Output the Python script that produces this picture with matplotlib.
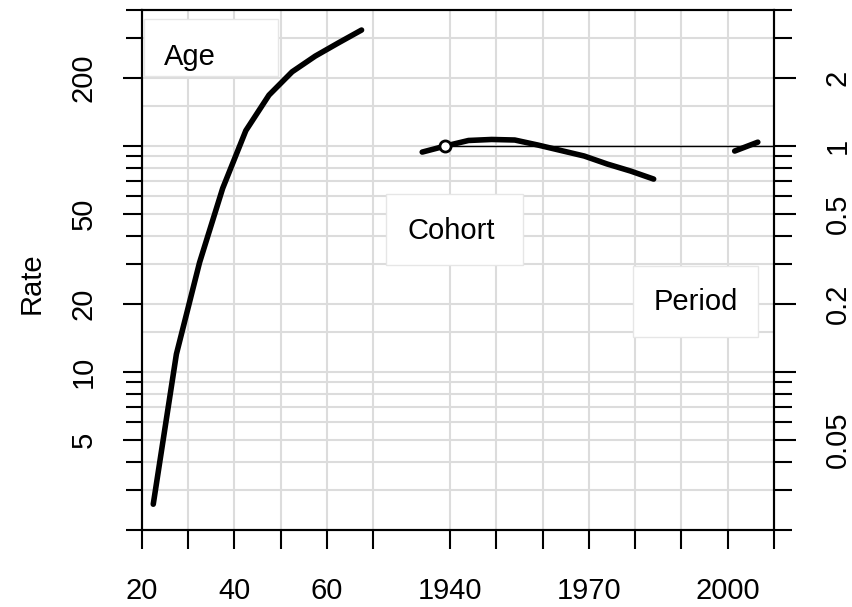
import numpy as np
import matplotlib.pyplot as plt
from matplotlib.patches import Rectangle

plt.rcParams['font.family'] = ['Liberation Sans', 'DejaVu Sans']

# Age effect: rates per 100,000 (left axis)
age = [22.5, 27.5, 32.5, 37.5, 42.5, 47.5, 52.5, 57.5, 62.5, 67.5]
age_rate = [2.6, 12.0, 30.5, 65.0, 117.0, 168.0, 213.0, 250.0, 286.0, 326.0]

# Cohort effect: rate ratios (right axis), reference cohort 1939
cohort = [1934, 1939, 1944, 1949, 1954, 1959, 1964, 1969, 1974, 1979, 1984]
cohort_rr = [0.94, 1.0, 1.058, 1.069, 1.063, 1.01, 0.955, 0.903, 0.832, 0.775, 0.714]
cohort_ref = 1939

# Period effect: rate ratios (right axis)
period = [2001.5, 2006.5]
period_rr = [0.95, 1.04]

# Axis ticks and labels
age_ticks = [20, 30, 40, 50, 60, 70]
age_labels = ['20', '', '40', '', '60', '']
cal_ticks = [1940, 1950, 1960, 1970, 1980, 1990, 2000, 2010]
cal_labels = ['1940', '', '', '1970', '', '', '2000', '']
rate_major = [5, 10, 20, 50, 100, 200]
rate_labels = ['5', '10', '20', '50', '', '200']
rate_minor = [2, 3, 4, 6, 7, 8, 9, 30, 40, 60, 70, 80, 90, 300, 400]
rate_grid = [3, 4, 5, 6, 7, 8, 9, 10, 15, 20, 30, 40, 50, 60, 70, 80, 90,
             100, 150, 200, 300]
rr_major = [0.05, 0.1, 0.2, 0.5, 1, 2]
rr_labels = ['0.05', '', '0.2', '0.5', '1', '2']
rr_minor = [0.02, 0.03, 0.04, 0.06, 0.07, 0.08, 0.09, 0.3, 0.4, 0.6, 0.7,
            0.8, 0.9, 3, 4]

# Calendar time sits to the right of age on the same x axis
cal_offset = 1853.4
x_range = (20, 2010 - cal_offset)
rate_range = (2, 400)
rr_range = (0.02, 4)

grid_col = '#dcdcdc'
fs = 21

fig = plt.figure(figsize=(8.53, 6.07), dpi=100)
ax = fig.add_axes([0.1661, 0.1269, 0.7413, 0.8567])
ax.set_xlim(*x_range)
ax.set_yscale('log')
ax.set_ylim(*rate_range)

# grid
for r in rate_grid:
    ax.axhline(r, color=grid_col, lw=1.5, zorder=0)
for a in age_ticks[1:]:
    ax.axvline(a, color=grid_col, lw=1.5, zorder=0)
for c in cal_ticks[:-1]:
    ax.axvline(c - cal_offset, color=grid_col, lw=1.5, zorder=0)

# x axis
xt = list(age_ticks) + [c - cal_offset for c in cal_ticks]
ax.set_xticks(xt, age_labels + cal_labels)
ax.tick_params(axis='x', which='major', length=13.7, width=1.5, pad=20,
               labelsize=fs, direction='out')

# left axis (rates)
ax.set_yticks(rate_major, rate_labels)
ax.set_yticks(rate_minor, minor=True)
ax.yaxis.set_minor_formatter(plt.NullFormatter())
ax.tick_params(axis='y', which='major', length=13.7, width=1.5, pad=18,
               labelsize=fs)
ax.tick_params(axis='y', which='minor', length=11.3, width=1.5)
for lab in ax.get_yticklabels():
    lab.set_rotation(90)
    lab.set_va('center')
ax.set_ylabel('Rate', fontsize=fs)
ax.yaxis.set_label_coords(-0.152, 0.475)

# right axis (rate ratios)
ax2 = ax.twinx()
ax2.set_yscale('log')
ax2.set_ylim(*rr_range)
ax2.set_yticks(rr_major, rr_labels)
ax2.set_yticks(rr_minor, minor=True)
ax2.yaxis.set_minor_formatter(plt.NullFormatter())
ax2.tick_params(axis='y', which='major', length=15.8, width=1.5, pad=20,
                labelsize=fs)
ax2.tick_params(axis='y', which='minor', length=12.6, width=1.5)
for lab in ax2.get_yticklabels():
    lab.set_rotation(90)
    lab.set_va('center')

for a in (ax, ax2):
    for s in a.spines.values():
        s.set_linewidth(1.5)

# label boxes
boxes = [('Age', 0.0036, 0.873, 0.2120, 0.110, 0.035, 0.894),
         ('Cohort', 0.3864, 0.5096, 0.2166, 0.1364, 0.4196, 0.559),
         ('Period', 0.777, 0.371, 0.198, 0.137, 0.809, 0.423)]
for txt, x0, y0, w, h, tx, ty in boxes:
    ax.add_patch(Rectangle((x0, y0), w, h, transform=ax.transAxes,
                           facecolor='white', edgecolor='#e6e6e6', lw=1,
                           zorder=1))
    ax.text(tx, ty, txt, transform=ax.transAxes, fontsize=fs,
            ha='left', va='baseline', zorder=2)

# curves
ax.plot(age, age_rate, color='black', lw=4, solid_capstyle='round',
        solid_joinstyle='round', zorder=3)
cx = np.array(cohort) - cal_offset
px = np.array(period) - cal_offset
ax2.plot([cohort_ref - cal_offset, x_range[1]], [1, 1], color='black', lw=1,
         zorder=2)
ax2.plot(cx, cohort_rr, color='black', lw=4, solid_capstyle='round',
         solid_joinstyle='round', zorder=3)
ax2.plot(px, period_rr, color='black', lw=4, solid_capstyle='round',
         zorder=3)
ax2.plot([cohort_ref - cal_offset], [1], 'o', ms=8, mfc='white', mec='black',
         mew=2, zorder=4)

fig.savefig('out.png', dpi=100)
